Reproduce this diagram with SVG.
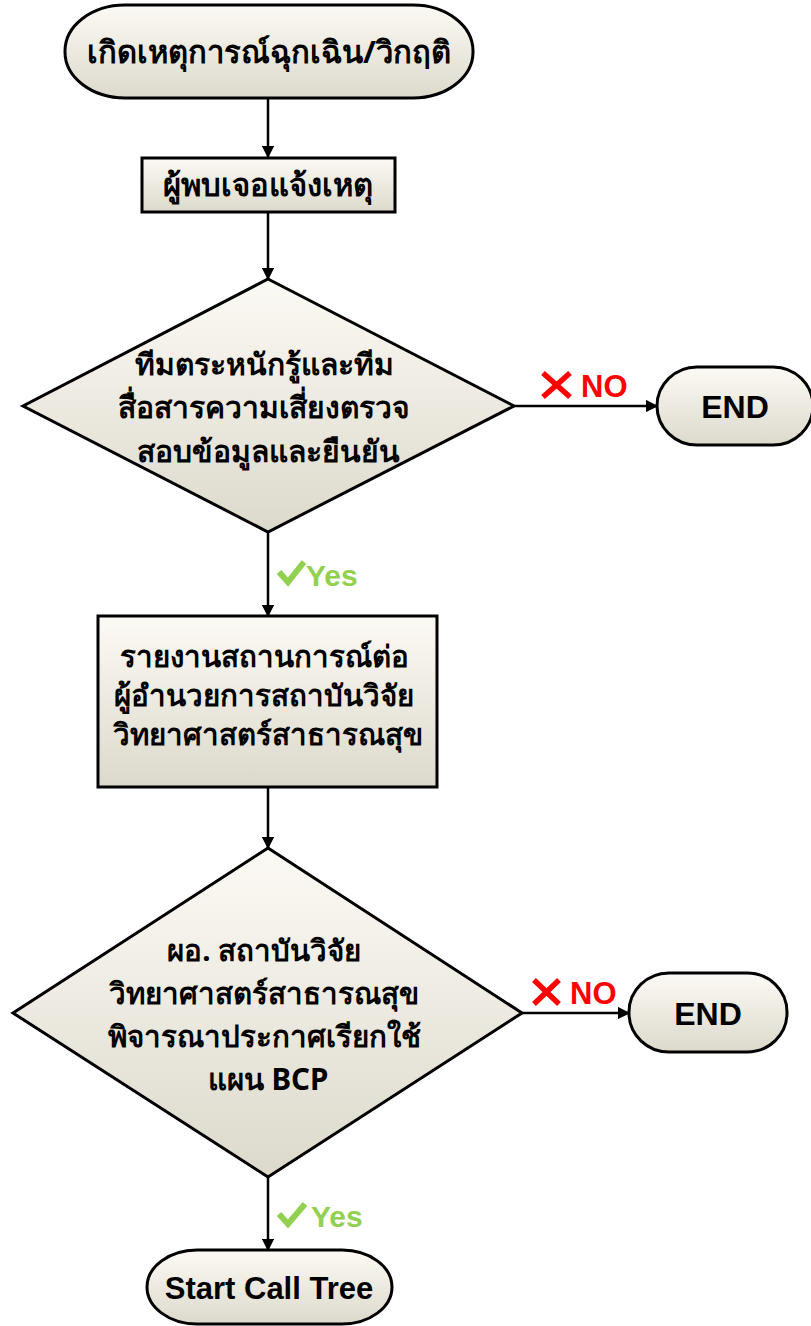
<svg xmlns="http://www.w3.org/2000/svg" width="811" height="1326" viewBox="0 0 811 1326">
  <defs>
    <linearGradient id="fillGrad" x1="0" y1="0" x2="0" y2="1">
      <stop offset="0" stop-color="#FCFAF4"/>
      <stop offset="1" stop-color="#DCD9CC"/>
    </linearGradient>
    <marker id="arrow" viewBox="0 0 10 10" refX="9" refY="5" markerWidth="5" markerHeight="5" orient="auto" markerUnits="strokeWidth">
      <path d="M0,0 L10,5 L0,10 Z" fill="#000"/>
    </marker>
    <style>
      .shape { fill: url(#fillGrad); stroke: #000; stroke-width: 3; }
      .conn { stroke: #000; stroke-width: 2.5; fill: none; marker-end: url(#arrow); }
      .th { font-family: "Noto Sans", "Liberation Sans", sans-serif; font-weight: bold; fill: #000; text-anchor: middle; }
      .en { font-family: "Liberation Sans", Arial, sans-serif; font-weight: bold; fill: #000; text-anchor: middle; }
      .no { font-family: "Liberation Sans", Arial, sans-serif; font-weight: bold; fill: #FF0000; font-size: 31px; }
      .yes { font-family: "Liberation Sans", Arial, sans-serif; font-weight: bold; fill: #92D050; font-size: 30px; }
      .xmark { stroke: #FF0000; stroke-width: 5.5; fill: none; }
      .check { stroke: #92D050; stroke-width: 6; fill: none; }
    </style>
  </defs>

  <g id="connectors">
    <line class="conn" x1="268" y1="98" x2="268" y2="157"/>
    <line class="conn" x1="268" y1="212" x2="268" y2="279"/>
    <line class="conn" x1="514" y1="406" x2="657" y2="406"/>
    <line class="conn" x1="268" y1="532" x2="268" y2="616"/>
    <line class="conn" x1="268" y1="787" x2="268" y2="848"/>
    <line class="conn" x1="522" y1="1013" x2="629" y2="1013"/>
    <line class="conn" x1="268" y1="1177" x2="268" y2="1250"/>
  </g>

  <g id="start">
    <rect class="shape" x="65" y="5" width="408" height="93" rx="60" ry="46"/>
    <text class="th" x="269" y="63" font-size="31">เกิดเหตุการณ์ฉุกเฉิน/วิกฤติ</text>
  </g>

  <g id="report">
    <rect class="shape" x="142" y="158" width="253" height="54"/>
    <text class="th" x="268" y="196" font-size="31">ผู้พบเจอแจ้งเหตุ</text>
  </g>

  <g id="decision1">
    <polygon class="shape" points="268,279 514,406 268,532 23,406"/>
    <text class="th" font-size="30">
      <tspan x="268" y="375">ทีมตระหนักรู้และทีม</tspan>
      <tspan x="268" y="418">สื่อสารความเสี่ยงตรวจ</tspan>
      <tspan x="268" y="462">สอบข้อมูลและยืนยัน</tspan>
    </text>
  </g>

  <g id="no1">
    <path class="xmark" d="M543,373 L570,397 M570,373 L543,397"/>
    <text class="no" x="581" y="397">NO</text>
  </g>

  <g id="end1">
    <rect class="shape" x="657" y="367" width="156" height="78" rx="40" ry="39"/>
    <text class="en" x="735" y="418" font-size="32">END</text>
  </g>

  <g id="yes1">
    <path class="check" d="M279,572 L288,582 L304,562"/>
    <text class="yes" x="306" y="586">Yes</text>
  </g>

  <g id="reportDirector">
    <rect class="shape" x="98" y="616" width="339" height="171"/>
    <text class="th" font-size="29.5">
      <tspan x="268" y="667">รายงานสถานการณ์ต่อ</tspan>
      <tspan x="268" y="706">ผู้อำนวยการสถาบันวิจัย</tspan>
      <tspan x="268" y="745">วิทยาศาสตร์สาธารณสุข</tspan>
    </text>
  </g>

  <g id="decision2">
    <polygon class="shape" points="268,848 522,1013 268,1177 13,1013"/>
    <text class="th" font-size="29.5">
      <tspan x="268" y="961">ผอ. สถาบันวิจัย</tspan>
      <tspan x="268" y="1004">วิทยาศาสตร์สาธารณสุข</tspan>
      <tspan x="268" y="1047">พิจารณาประกาศเรียกใช้</tspan>
      <tspan x="268" y="1090">แผน BCP</tspan>
    </text>
  </g>

  <g id="no2">
    <path class="xmark" d="M534,980 L559,1004 M559,980 L534,1004"/>
    <text class="no" x="570" y="1004">NO</text>
  </g>

  <g id="end2">
    <rect class="shape" x="629" y="973" width="158" height="79" rx="40" ry="39"/>
    <text class="en" x="708" y="1025" font-size="32">END</text>
  </g>

  <g id="yes2">
    <path class="check" d="M279,1214 L288,1224 L305,1204"/>
    <text class="yes" x="311" y="1227">Yes</text>
  </g>

  <g id="callTree">
    <rect class="shape" x="147" y="1250" width="245" height="74" rx="50" ry="37"/>
    <text class="en" x="269" y="1299" font-size="31">Start Call Tree</text>
  </g>
</svg>
